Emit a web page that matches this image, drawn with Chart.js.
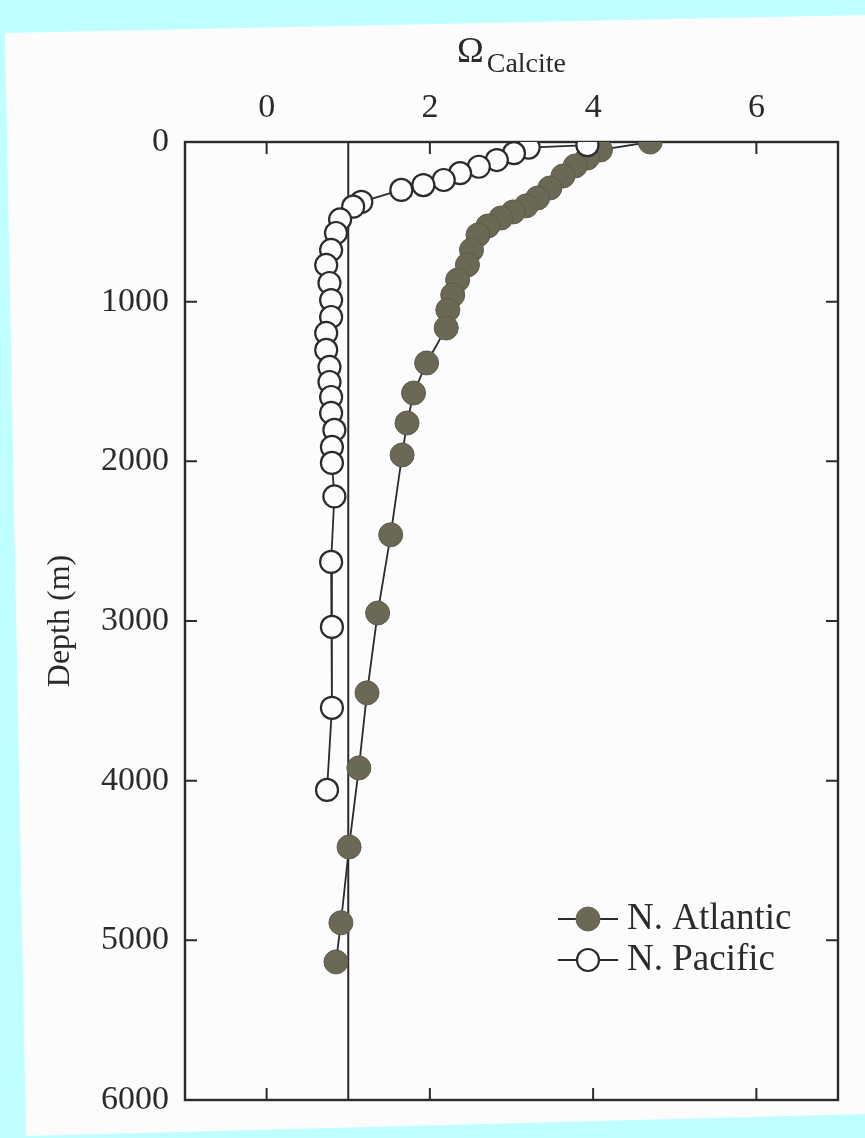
<!DOCTYPE html>
<html><head><meta charset="utf-8">
<script src="https://cdn.jsdelivr.net/npm/chart.js@4"></script>
<style>html,body{margin:0;padding:0;background:#c0ffff;}canvas{display:block}</style>
</head><body>
<div style="width:865px;height:1138px;position:relative"><canvas id="c" width="865" height="1138"></canvas></div>
<script>
// ---- data ----
const seriesNames = ['N. Atlantic', 'N. Pacific'];
const atlanticOmega = [4.70, 4.09, 3.93, 3.78, 3.63, 3.47, 3.32, 3.18, 3.02, 2.87, 2.71, 2.59, 2.51, 2.46, 2.34, 2.28, 2.22, 2.20, 1.96, 1.80, 1.72, 1.66, 1.52, 1.36, 1.23, 1.13, 1.01, 0.91, 0.85];
const atlanticDepth = [0, 50, 100, 150, 213, 288, 351, 400, 438, 476, 526, 582, 676, 770, 864, 958, 1052, 1165, 1384, 1572, 1760, 1960, 2460, 2950, 3450, 3920, 4415, 4890, 5135];
const pacificOmega = [3.93, 3.21, 3.03, 2.82, 2.60, 2.37, 2.17, 1.92, 1.65, 1.16, 1.06, 0.90, 0.85, 0.79, 0.73, 0.77, 0.79, 0.79, 0.73, 0.73, 0.77, 0.77, 0.79, 0.79, 0.83, 0.80, 0.80, 0.83, 0.79, 0.80, 0.80, 0.74];
const pacificDepth = [20, 35, 70, 113, 155, 195, 238, 270, 300, 375, 405, 485, 570, 676, 770, 883, 990, 1096, 1196, 1302, 1409, 1503, 1597, 1697, 1803, 1910, 2010, 2220, 2630, 3037, 3544, 4058];
const xTickValues = [0, 2, 4, 6];
const yTickValues = [0, 1000, 2000, 3000, 4000, 5000, 6000];
const xRange = [-1, 7];
const yRange = [0, 6000];
const saturationLine = 1;
const xTitleMain = 'Ω';
const xTitleSub = 'Calcite';
const yTitle = 'Depth (m)';

// ---- styles ----
const SERIF = '"Liberation Serif", "DejaVu Serif", serif';
const INK = '#2b2b2b';
const FILL_DARK = '#6c6856';
const PAPER = '#fbfcfb';

function toPoints(xs, ys) { return xs.map((x, i) => ({x: x, y: ys[i]})); }

const paperPlugin = {
  id: 'paper',
  beforeDraw(chart) {
    const ctx = chart.ctx;
    ctx.save();
    ctx.fillStyle = '#c0ffff';
    ctx.fillRect(0, 0, chart.width, chart.height);
    ctx.fillStyle = PAPER;
    ctx.beginPath();
    ctx.moveTo(5, 33); ctx.lineTo(865, 15); ctx.lineTo(865, 1114); ctx.lineTo(26, 1136); ctx.closePath();
    ctx.fill();
    ctx.restore();
  }
};

const framePlugin = {
  id: 'frame',
  beforeDatasetsDraw(chart) {
    const {ctx, chartArea: a, scales: {x, y}} = chart;
    ctx.save();
    ctx.strokeStyle = INK;
    ctx.lineWidth = 2.4;
    ctx.strokeRect(a.left, a.top, a.right - a.left, a.bottom - a.top);
    ctx.lineWidth = 2;
    ctx.beginPath();
    const tl = 12;
    x.ticks.forEach(t => {
      const px = x.getPixelForValue(t.value);
      ctx.moveTo(px, a.top); ctx.lineTo(px, a.top + tl);
      ctx.moveTo(px, a.bottom); ctx.lineTo(px, a.bottom - tl);
    });
    y.ticks.forEach(t => {
      const py = y.getPixelForValue(t.value);
      ctx.moveTo(a.left, py); ctx.lineTo(a.left + tl, py);
      ctx.moveTo(a.right, py); ctx.lineTo(a.right - tl, py);
    });
    ctx.stroke();
    // saturation line
    const sx = x.getPixelForValue(saturationLine);
    ctx.lineWidth = 2;
    ctx.beginPath();
    ctx.moveTo(sx, a.top); ctx.lineTo(sx, a.bottom);
    ctx.stroke();
    ctx.restore();
  },
  afterDraw(chart) {
    const {ctx, chartArea: a} = chart;
    ctx.save();
    ctx.fillStyle = INK;
    ctx.textBaseline = 'alphabetic';
    ctx.textAlign = 'left';
    ctx.font = '36px ' + SERIF;
    const wMain = ctx.measureText(xTitleMain).width;
    ctx.font = '28px ' + SERIF;
    const wSub = ctx.measureText(xTitleSub).width;
    const cx = (a.left + a.right) / 2;
    const x0 = cx - (wMain + 3 + wSub) / 2;
    ctx.font = '36px ' + SERIF;
    ctx.fillText(xTitleMain, x0, 62);
    ctx.font = '28px ' + SERIF;
    ctx.fillText(xTitleSub, x0 + wMain + 3, 72);

    // legend
    const rows = [
      {name: seriesNames[0], fill: FILL_DARK, stroke: FILL_DARK, r: 12, lw: 1},
      {name: seriesNames[1], fill: PAPER, stroke: INK, r: 11, lw: 2.2}
    ];
    rows.forEach((row, i) => {
      const ly = 919 + i * 41;
      ctx.strokeStyle = INK;
      ctx.lineWidth = 1.8;
      ctx.beginPath(); ctx.moveTo(558, ly); ctx.lineTo(618, ly); ctx.stroke();
      ctx.beginPath(); ctx.arc(588, ly, row.r, 0, Math.PI * 2);
      ctx.fillStyle = row.fill; ctx.fill();
      ctx.lineWidth = row.lw; ctx.strokeStyle = row.stroke; ctx.stroke();
      ctx.fillStyle = INK;
      ctx.font = '37px ' + SERIF;
      ctx.textBaseline = 'middle';
      ctx.fillText(row.name, 627, ly);
    });
    ctx.restore();
  }
};

new Chart(document.getElementById('c'), {
  type: 'scatter',
  data: {
    datasets: [
      {
        label: seriesNames[0],
        data: toPoints(atlanticOmega, atlanticDepth),
        showLine: true,
        borderColor: INK,
        borderWidth: 1.8,
        pointRadius: 12,
        pointBackgroundColor: FILL_DARK,
        pointBorderColor: '#5f5b4b',
        pointBorderWidth: 1,
        order: 1
      },
      {
        label: seriesNames[1],
        data: toPoints(pacificOmega, pacificDepth),
        showLine: true,
        borderColor: INK,
        borderWidth: 1.8,
        pointRadius: 11,
        pointBackgroundColor: PAPER,
        pointBorderColor: INK,
        pointBorderWidth: 2.2,
        order: 0
      }
    ]
  },
  options: {
    responsive: false,
    animation: false,
    events: [],
    layout: {padding: {left: 0, top: 0, right: 27, bottom: 38}},
    plugins: {legend: {display: false}, tooltip: {enabled: false}},
    scales: {
      x: {
        type: 'linear', position: 'top', min: xRange[0], max: xRange[1],
        afterBuildTicks: s => { s.ticks = xTickValues.map(v => ({value: v})); },
        afterFit: s => { s.height = 142; },
        grid: {display: false, drawTicks: false, tickLength: 0},
        border: {display: false},
        ticks: {font: {family: SERIF, size: 34}, color: INK, padding: 14, maxRotation: 0, callback: v => String(v)}
      },
      y: {
        type: 'linear', position: 'left', reverse: true, min: yRange[0], max: yRange[1],
        afterBuildTicks: s => { s.ticks = yTickValues.map(v => ({value: v})); },
        afterFit: s => { s.width = 185; },
        grid: {display: false, drawTicks: false, tickLength: 0},
        border: {display: false},
        ticks: {font: {family: SERIF, size: 34}, color: INK, padding: 16, callback: v => String(v)},
        title: {display: true, text: yTitle, font: {family: SERIF, size: 32}, color: INK, padding: {top: 41, bottom: 0}}
      }
    }
  },
  plugins: [paperPlugin, framePlugin]
});
</script>
</body></html>
